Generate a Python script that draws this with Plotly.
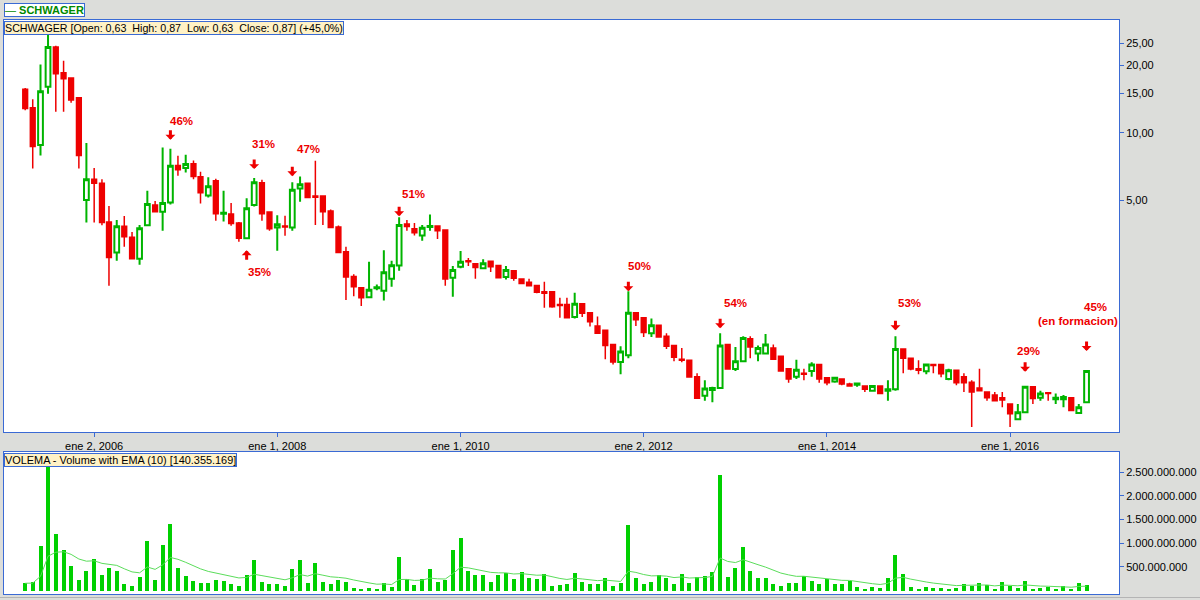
import numpy as np
import pandas as pd
import plotly.graph_objects as go

# ---------------- data ----------------
dates = pd.date_range("2005-04-01", periods=140, freq="MS")

opens = [15.6, 12.9, 8.81, 16.0, 24.1, 18.5, 17.5, 14.3, 5.01, 6.21,
         5.96, 4.0, 2.93, 3.83, 3.42, 2.75, 3.87, 4.77, 4.45, 4.89,
         7.14, 6.96, 7.27, 6.36, 5.25, 6.11, 4.36, 4.35, 3.96, 3.39,
         4.76, 5.98, 4.44, 3.78, 3.84, 3.78, 5.64, 5.96, 5.22, 5.22,
         4.48, 3.80, 2.95, 2.29, 2.04, 1.85, 2.03, 1.98, 2.24, 2.56,
         3.92, 3.74, 3.49, 3.80, 3.84, 3.69, 2.26, 2.53, 2.69, 2.61,
         2.49, 2.68, 2.56, 2.28, 2.43, 2.23, 2.16, 2.09, 1.96, 1.96,
         1.72, 1.72, 1.51, 1.73, 1.58, 1.38, 1.32, 1.14, 0.953, 1.02,
         1.58, 1.50, 1.28, 1.39, 1.24, 1.13, 0.98, 0.97, 0.82, 0.675,
         0.715, 0.73, 1.14, 0.886, 0.96, 1.21, 1.04, 1.04, 1.10, 1.01,
         0.89, 0.82, 0.85, 0.87, 0.93, 0.81, 0.78, 0.80, 0.76, 0.755,
         0.745, 0.71, 0.745, 0.71, 0.72, 1.09, 0.99, 0.89, 0.866, 0.93,
         0.93, 0.80, 0.875, 0.82, 0.775, 0.73, 0.70, 0.68, 0.66, 0.62,
         0.53, 0.57, 0.74, 0.66, 0.695, 0.65, 0.65, 0.66, 0.565, 0.63]
highs = [15.8, 14.1, 20.1, 27.4, 24.4, 20.9, 17.5, 14.3, 9.0, 6.96,
         6.21, 4.72, 4.09, 4.26, 3.61, 3.88, 5.51, 4.97, 8.6, 8.48,
         7.89, 7.97, 7.52, 6.70, 6.34, 6.23, 5.51, 4.86, 4.0, 5.11,
         6.28, 6.17, 4.44, 4.29, 4.27, 6.02, 6.38, 5.96, 7.50, 5.22,
         4.55, 3.86, 3.11, 2.34, 2.04, 2.66, 2.11, 3.0, 2.69, 4.20,
         4.09, 3.96, 3.88, 4.32, 3.84, 3.69, 2.55, 2.97, 2.77, 2.61,
         2.73, 2.68, 2.56, 2.55, 2.43, 2.23, 2.24, 2.09, 2.17, 1.96,
         1.84, 1.84, 1.94, 1.73, 1.58, 1.52, 1.32, 1.14, 1.12, 1.97,
         1.58, 1.50, 1.49, 1.39, 1.28, 1.13, 1.10, 0.97, 0.85, 0.79,
         0.74, 1.28, 1.15, 1.11, 1.24, 1.24, 1.13, 1.27, 1.14, 1.01,
         0.89, 0.975, 0.89, 0.95, 0.93, 0.81, 0.82, 0.80, 0.77, 0.765,
         0.745, 0.745, 0.75, 0.79, 1.24, 1.09, 0.99, 0.97, 0.93, 0.93,
         0.93, 0.89, 0.875, 0.85, 0.79, 0.89, 0.70, 0.70, 0.70, 0.62,
         0.62, 0.74, 0.74, 0.71, 0.695, 0.69, 0.68, 0.66, 0.62, 0.87]
lows = [12.6, 6.93, 7.92, 14.9, 12.4, 12.4, 13.6, 6.93, 3.98, 3.98,
        3.87, 2.08, 2.69, 3.11, 2.75, 2.58, 3.87, 4.45, 3.66, 4.79,
        6.43, 6.65, 6.21, 4.84, 5.14, 4.06, 4.02, 3.85, 3.27, 3.39,
        4.69, 4.06, 3.66, 2.98, 3.48, 3.66, 4.93, 5.14, 3.88, 3.88,
        3.78, 2.93, 1.80, 1.87, 1.69, 1.84, 1.99, 1.79, 2.06, 2.43,
        3.66, 3.49, 3.30, 3.66, 3.36, 2.08, 1.86, 2.49, 2.55, 2.24,
        2.47, 2.40, 2.26, 2.22, 2.19, 2.13, 2.08, 1.93, 1.66, 1.66,
        1.50, 1.50, 1.49, 1.51, 1.37, 1.28, 0.98, 0.93, 0.84, 0.99,
        1.38, 1.23, 1.23, 1.23, 1.09, 0.96, 0.95, 0.81, 0.655, 0.64,
        0.63, 0.73, 0.886, 0.87, 0.96, 0.99, 0.96, 1.04, 0.98, 0.87,
        0.77, 0.80, 0.79, 0.82, 0.77, 0.75, 0.77, 0.75, 0.745, 0.74,
        0.70, 0.71, 0.69, 0.64, 0.71, 0.85, 0.875, 0.84, 0.84, 0.85,
        0.815, 0.79, 0.75, 0.70, 0.49, 0.71, 0.64, 0.64, 0.60, 0.49,
        0.53, 0.565, 0.62, 0.64, 0.64, 0.62, 0.60, 0.58, 0.565, 0.63]
closes = [12.8, 8.69, 15.3, 24.1, 18.3, 17.4, 14.0, 7.92, 6.21, 5.96,
          3.98, 2.78, 3.83, 3.44, 2.75, 3.75, 4.81, 4.45, 4.86, 7.12,
          6.84, 7.25, 6.38, 5.41, 5.78, 4.36, 4.40, 3.94, 3.39, 4.61,
          6.02, 4.36, 3.74, 3.91, 3.80, 5.57, 5.90, 5.14, 5.16, 4.45,
          3.78, 2.93, 2.28, 2.06, 1.84, 2.00, 2.05, 2.39, 2.57, 3.88,
          3.82, 3.59, 3.77, 3.84, 3.66, 2.23, 2.45, 2.66, 2.66, 2.51,
          2.62, 2.53, 2.26, 2.45, 2.25, 2.13, 2.08, 1.95, 1.93, 1.68,
          1.70, 1.50, 1.73, 1.57, 1.44, 1.28, 1.13, 0.953, 1.06, 1.58,
          1.47, 1.29, 1.39, 1.23, 1.12, 1.00, 0.97, 0.817, 0.658, 0.726,
          0.73, 1.13, 0.886, 0.96, 1.22, 1.11, 1.10, 1.14, 0.98, 0.87,
          0.80, 0.88, 0.84, 0.93, 0.80, 0.77, 0.81, 0.76, 0.745, 0.765,
          0.72, 0.745, 0.69, 0.72, 1.09, 0.99, 0.886, 0.875, 0.93, 0.92,
          0.845, 0.875, 0.77, 0.77, 0.70, 0.71, 0.66, 0.64, 0.645, 0.56,
          0.57, 0.74, 0.655, 0.69, 0.69, 0.66, 0.665, 0.58, 0.60, 0.87]

volume_millions = [156, 177, 944, 2630, 1197, 860, 520, 226, 416, 668,
                   330, 486, 416, 140, 99, 289, 1050, 226, 965, 1408,
                   486, 310, 205, 163, 163, 226, 205, 140, 99, 330,
                   648, 184, 140, 140, 99, 458, 648, 163, 585, 184,
                   140, 226, 184, 57, 15, 57, 15, 163, 78, 710,
                   247, 120, 247, 458, 184, 226, 860, 1113, 416, 330,
                   330, 184, 330, 374, 247, 395, 268, 247, 353, 99,
                   120, 140, 374, 184, 140, 140, 268, 106, 163, 1387,
                   268, 140, 184, 330, 268, 140, 353, 163, 289, 310,
                   395, 2443, 289, 486, 923, 416, 268, 268, 140, 99,
                   163, 163, 310, 205, 140, 247, 140, 140, 205, 78,
                   36, 78, 57, 268, 754, 353, 78, 36, 78, 57,
                   57, 15, 57, 140, 99, 163, 120, 15, 184, 99,
                   57, 205, 36, 57, 78, 36, 99, 15, 163, 120]

tick_dates = ["2006-01-01", "2008-01-01", "2010-01-01", "2012-01-01", "2014-01-01", "2016-01-01"]
tick_labels = ["ene 2, 2006", "ene 1, 2008", "ene 1, 2010", "ene 2, 2012", "ene 1, 2014", "ene 1, 2016"]
price_ticks = [5, 10, 15, 20, 25]
volume_ticks = [500e6, 1000e6, 1500e6, 2000e6, 2500e6]

# marked candles: index, label, direction
mark_index = [19, 29, 30, 35, 49, 79, 91, 114, 131, 139]
mark_label = ["46%", "35%", "31%", "47%", "51%", "50%", "54%", "53%", "29%", "45%"]
mark_dir = ["down", "up", "down", "down", "down", "down", "down", "down", "down", "down"]

# ---------------- styles ----------------
RED = "#EE0000"
GREEN = "#00B400"
VGREEN = "#00D000"
EMA_C = "#5BDD5B"
BLUE = "#3A6AD4"
BG = "#DCDDDA"
FONT = "Liberation Sans"

# arrow gap (px) from candle extreme, text offset (dx, dy px)
arrow_gap = [9, 12, 9, 6, 1, 0, 5, 6, 15, 20]
text_dx = [11, 13, 9, 16, 14, 11, 15, 14, 3, 9]
text_dy = [28, 34, 34, 33, 23, 25, 30, 33, 36, 64]

vol = np.array(volume_millions, dtype=float) * 1e6
ema = pd.Series(vol).ewm(span=10, adjust=False).mean().values

x_start = dates[0] - pd.Timedelta(days=84.55)
x_end = x_start + pd.Timedelta(days=4445.9)

fig = go.Figure()
fig.add_trace(go.Candlestick(
    x=dates, open=opens, high=highs, low=lows, close=closes,
    increasing=dict(line=dict(color=GREEN, width=2), fillcolor="white"),
    decreasing=dict(line=dict(color=RED, width=1.5), fillcolor=RED),
    whiskerwidth=0, showlegend=False, hoverinfo="skip",
    xaxis="x", yaxis="y"))
fig.add_trace(go.Bar(
    x=dates, y=vol, width=16 * 86400000,
    marker=dict(color=VGREEN, line=dict(width=0)),
    showlegend=False, xaxis="x2", yaxis="y2"))
fig.add_trace(go.Scatter(
    x=dates, y=ema, mode="lines", line=dict(color=EMA_C, width=1),
    showlegend=False, xaxis="x2", yaxis="y2"))

axis_common = dict(showline=True, linecolor=BLUE, linewidth=1, mirror=True,
                   showgrid=False, zeroline=False,
                   tickfont=dict(family=FONT, size=11, color="black"))

annotations = []
for k, i in enumerate(mark_index):
    d = dates[i]
    if mark_dir[k] == "down":
        yv = np.log10(highs[i])
        annotations.append(dict(x=d, y=yv, xref="x", yref="y", text="", showarrow=True,
                                ax=0, ay=-11, yshift=arrow_gap[k], arrowhead=1,
                                arrowsize=0.55, arrowwidth=3, arrowcolor=RED, standoff=0))
        annotations.append(dict(x=d, y=yv, xref="x", yref="y", text="<b>%s</b>" % mark_label[k],
                                showarrow=False, xshift=text_dx[k], yshift=text_dy[k],
                                xanchor="center", yanchor="middle",
                                font=dict(family=FONT, size=11.5, color=RED)))
    else:
        yv = np.log10(lows[i])
        annotations.append(dict(x=d, y=yv, xref="x", yref="y", text="", showarrow=True,
                                ax=0, ay=11, yshift=-arrow_gap[k], arrowhead=1,
                                arrowsize=0.55, arrowwidth=3, arrowcolor=RED, standoff=0))
        annotations.append(dict(x=d, y=yv, xref="x", yref="y", text="<b>%s</b>" % mark_label[k],
                                showarrow=False, xshift=text_dx[k], yshift=-text_dy[k],
                                xanchor="center", yanchor="middle",
                                font=dict(family=FONT, size=11.5, color=RED)))
# second line of the last label
annotations.append(dict(x=dates[139], y=np.log10(highs[139]), xref="x", yref="y",
                        text="<b>(en formacion)</b>", showarrow=False, xshift=-9, yshift=50,
                        xanchor="center", yanchor="middle",
                        font=dict(family=FONT, size=11.5, color=RED)))

NB = "\u00a0\u00a0"
annotations += [
    dict(xref="paper", yref="paper", x=0, y=(594 - 3) / 574, xanchor="left", yanchor="top",
         text="— <b>SCHWAGER</b>", showarrow=False, bgcolor="white", bordercolor=BLUE,
         borderwidth=1, borderpad=0, font=dict(family=FONT, size=11, color="#008A00")),
    dict(xref="paper", yref="paper", x=0, y=(594 - 20.7) / 574, xanchor="left", yanchor="top",
         text="SCHWAGER [Open: 0,63" + NB + "High: 0,87" + NB + "Low: 0,63" + NB + "Close: 0,87] (+45,0%)",
         showarrow=False, bgcolor="#FFF2C6", bordercolor=BLUE, borderwidth=1, borderpad=0,
         font=dict(family=FONT, size=10.7, color="black")),
    dict(xref="paper", yref="paper", x=0, y=(594 - 452.7) / 574, xanchor="left", yanchor="top",
         text="VOLEMA - Volume with EMA (10) [140.355.169]",
         showarrow=False, bgcolor="#FFF2C6", bordercolor=BLUE, borderwidth=1, borderpad=0,
         font=dict(family=FONT, size=10.9, color="black")),
]

fig.update_layout(
    width=1200, height=600,
    margin=dict(l=3, r=77, t=20, b=6),
    paper_bgcolor=BG, plot_bgcolor="white",
    separators=",.",
    boxgap=0.2, boxgroupgap=0.15,
    bargap=0,
    showlegend=False,
    font=dict(family=FONT, size=11, color="black"),
    xaxis=dict(domain=[0, 1], anchor="y", type="date", range=[x_start, x_end],
               rangeslider=dict(visible=False),
               tickvals=pd.to_datetime(tick_dates), ticktext=tick_labels,
               ticks="outside", ticklen=4, tickcolor=BLUE, **axis_common),
    yaxis=dict(domain=[162 / 574, 1], anchor="x", type="log",
               range=[-0.3326, 1.5018], side="right",
               tickvals=price_ticks, tickformat=".2f",
               ticks="outside", ticklen=4, tickcolor=BLUE, **axis_common),
    xaxis2=dict(domain=[0, 1], anchor="y2", type="date", matches="x",
                showticklabels=False, ticks="", **axis_common),
    yaxis2=dict(domain=[0, 142 / 574], anchor="x2", range=[-0.07e9, 2.923e9],
                side="right", tickvals=volume_ticks, tickformat=",.0f",
                ticks="outside", ticklen=4, tickcolor=BLUE, **axis_common),
    annotations=annotations,
    shapes=[dict(type="line", xref="paper", yref="paper", x0=-0.01, x1=1.1,
                 y0=(594 - 597.5) / 574, y1=(594 - 597.5) / 574,
                 line=dict(color="#B4B4B4", width=1))],
)

fig.write_html("out.html", config={"displayModeBar": False},
               post_script="document.body.style.margin='0px';document.body.style.overflow='hidden';")
